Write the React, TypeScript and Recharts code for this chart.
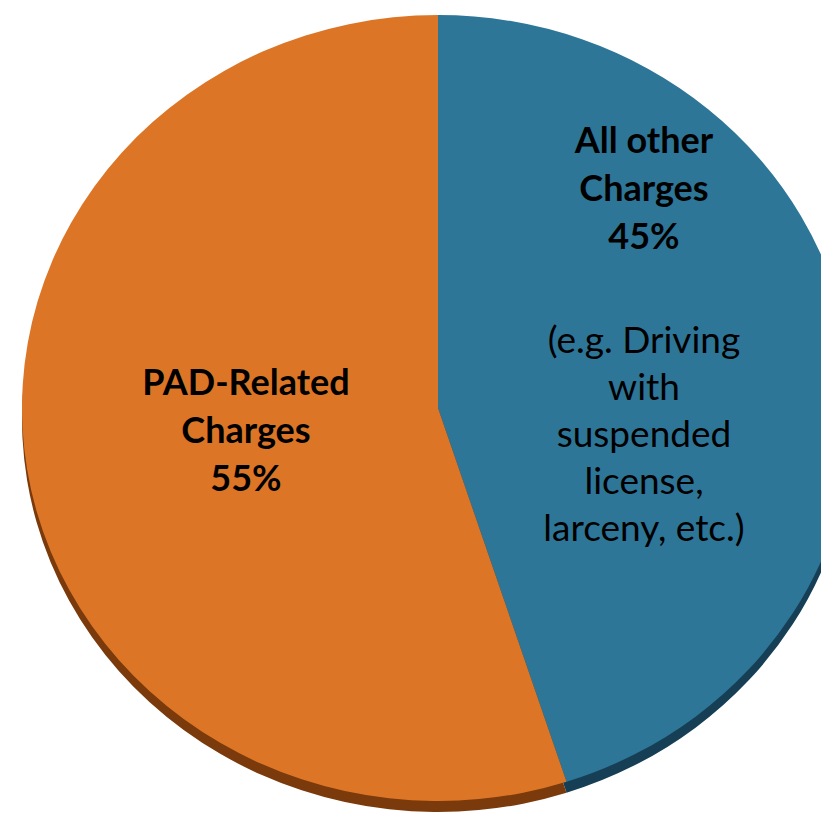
import { PieChart, Pie, Cell } from "recharts";

const categories = ["All other Charges", "PAD-Related Charges"];
const shares = [45, 55];
const faceColors = ["#2E7698", "#DC7626"];
const rimColors = ["#163F55", "#7A3A0C"];
const titleLines = [
  ["All other", "Charges", "45%"],
  ["PAD-Related", "Charges", "55%"],
];
const noteLines = [
  ["(e.g. Driving", "with", "suspended", "license,", "larceny, etc.)"],
  [],
];

const data = categories.map((name, i) => ({ name, value: shares[i] }));

const RX = 416;
const RY = 393;
const DEPTH = 11;

// recharts only does circles, so stretch the sector into an ellipse
const ellipsePath = (cx: number, cy: number, start: number, end: number) => {
  const rad = Math.PI / 180;
  const x1 = cx + RX * Math.cos(start * rad);
  const y1 = cy - RY * Math.sin(start * rad);
  const x2 = cx + RX * Math.cos(end * rad);
  const y2 = cy - RY * Math.sin(end * rad);
  const large = Math.abs(end - start) > 180 ? 1 : 0;
  const sweep = start > end ? 1 : 0;
  return `M${cx},${cy} L${x1},${y1} A${RX},${RY} 0 ${large} ${sweep} ${x2},${y2} Z`;
};

const FaceShape = (p: any) => (
  <path d={ellipsePath(p.cx, p.cy, p.startAngle, p.endAngle)} fill={p.fill} />
);

const RimShape = (p: any) => (
  <path d={ellipsePath(p.cx, p.cy + DEPTH, p.startAngle, p.endAngle)} fill={p.fill} />
);

const labelSpots: Record<string, { x: number; y: number; noteY: number }> = {
  "All other Charges": { x: 644, y: 153, noteY: 353 },
  "PAD-Related Charges": { x: 246, y: 395, noteY: 0 },
};

const FONT = "Lato, 'Open Sans', sans-serif";

const renderLabel = (props: any) => {
  const name = props.name ?? props.payload?.name;
  const idx = categories.indexOf(name);
  const spot = labelSpots[name];
  if (!spot || idx < 0) return null;
  return (
    <g>
      {titleLines[idx].map((t, i) => (
        <text
          key={"t" + i}
          x={spot.x}
          y={spot.y + i * 48}
          textAnchor="middle"
          fontFamily={FONT}
          fontWeight={700}
          fontSize={36}
          fill="#000"
        >
          {t}
        </text>
      ))}
      {noteLines[idx].map((t, i) => (
        <text
          key={"n" + i}
          x={spot.x}
          y={spot.noteY + i * 47}
          textAnchor="middle"
          fontFamily={FONT}
          fontSize={37}
          fill="#000"
        >
          {t}
        </text>
      ))}
    </g>
  );
};

export default function App() {
  return (
    <div style={{ margin: -8, width: 829, height: 821 }}>
      <PieChart width={829} height={821}>
        <Pie
          data={data}
          dataKey="value"
          nameKey="name"
          cx={433}
          cy={403}
          outerRadius={RY}
          startAngle={90}
          endAngle={-270}
          stroke="none"
          shape={RimShape}
          inactiveShape={RimShape}
          activeShape={RimShape}
          isAnimationActive={false}
        >
          {data.map((d, i) => (
            <Cell key={d.name} fill={rimColors[i]} />
          ))}
        </Pie>
        <Pie
          data={data}
          dataKey="value"
          nameKey="name"
          cx={433}
          cy={403}
          outerRadius={RY}
          startAngle={90}
          endAngle={-270}
          stroke="none"
          shape={FaceShape}
          inactiveShape={FaceShape}
          activeShape={FaceShape}
          label={renderLabel}
          labelLine={false}
          isAnimationActive={false}
        >
          {data.map((d, i) => (
            <Cell key={d.name} fill={faceColors[i]} />
          ))}
        </Pie>
      </PieChart>
    </div>
  );
}
